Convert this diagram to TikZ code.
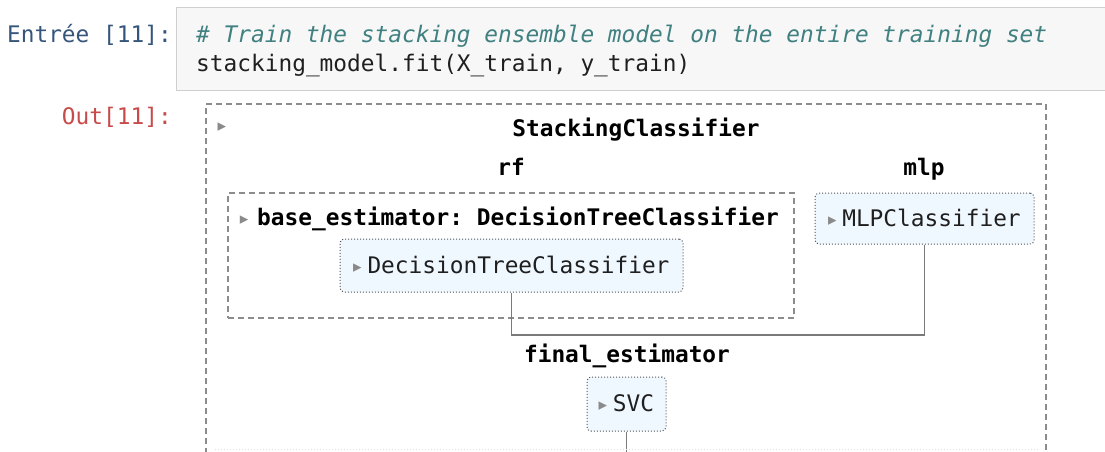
\documentclass[tikz,border=0pt]{standalone}
\usepackage{fontspec}
\setmonofont{DejaVu Sans Mono}
\newfontfamily\symfont{DejaVu Sans}

\definecolor{inblue}{HTML}{36557A}
\definecolor{outred}{HTML}{C84B4B}
\definecolor{commentteal}{HTML}{408080}
\definecolor{codeink}{HTML}{1F1F1F}
\definecolor{cellfill}{HTML}{F7F7F7}
\definecolor{cellborder}{HTML}{CFCFCF}
\definecolor{dashgray}{HTML}{8C8C8C}
\definecolor{dotgray}{HTML}{555555}
\definecolor{estfill}{HTML}{F0F8FF}
\definecolor{conngray}{HTML}{7A7A7A}
\definecolor{trigray}{HTML}{8A8A8A}

% toggle triangle in front of the estimator names
\newcommand{\tgl}{\makebox[8pt]{\color{trigray}\symfont\fontsize{17}{17}\selectfont\raisebox{1pt}{▸}}}

\tikzset{
  mono/.style={font=\ttfamily\fontsize{22.8}{28}\selectfont, inner sep=0pt},
  lbl/.style={font=\ttfamily\bfseries\fontsize{22.8}{28}\selectfont, inner sep=0pt, anchor=base, text=black},
  cellbox/.style={draw=cellborder, fill=cellfill, line width=1pt, inner sep=0pt},
  dashbox/.style={draw=dashgray, line width=1.1pt, dash pattern=on 6pt off 4pt, inner sep=0pt},
  estbox/.style={draw=dotgray, line width=1pt, dotted, fill=estfill, rounded corners=4pt,
    font=\ttfamily\fontsize{22.8}{28}\selectfont, text=codeink, text height=18pt, text depth=3pt,
    inner sep=0pt, align=center},
  conn/.style={draw=conngray, line width=1.4pt},
  faintline/.style={draw=black!12, line width=1pt, dotted}
}

\begin{document}
\begin{tikzpicture}[x=1pt,y=-1pt]
\useasboundingbox (0,0) rectangle (1105,452);
\clip (0,0) rectangle (1105,452);

% input cell
\node[cellbox, minimum width=939pt, minimum height=82.5pt] (cell) at (645.5,49.25) {};
\node[mono, text=inblue, anchor=base east] (inprompt) at (172,43) {Entrée [11]:};
\node[mono, text=commentteal, anchor=base west, font=\ttfamily\itshape\fontsize{22.8}{28}\selectfont] (codeA) at (196,43)
  {\# Train the stacking ensemble model on the entire training set};
\node[mono, text=codeink, anchor=base west] (codeB) at (196,71) {stacking\_model.fit(X\_train, y\_train)};

% output prompt
\node[mono, text=outred, anchor=base east] (outprompt) at (172,124) {Out[11]:};

% outer estimator container
\node[dashbox, minimum width=840pt, minimum height=376pt] (outer) at (626,292) {};
\node[inner sep=0pt] (toggle) at (222,128) {\tgl};
\node[lbl] (stack) at (636,136) {StackingClassifier};

% base estimators
\node[lbl] (rflbl) at (511,175) {rf};
\node[lbl] (mlplbl) at (924,175) {mlp};

\node[dashbox, minimum width=566pt, minimum height=125pt] (rfbox) at (511,255.5) {};
\node[lbl, anchor=base west] (basest) at (240,225) {\tgl\hspace{9pt}base\_estimator: DecisionTreeClassifier};

\node[estbox, minimum width=343pt, minimum height=53pt] (dtc) at (511.5,265.5) {\tgl\hspace{6pt}DecisionTreeClassifier};
\node[estbox, minimum width=219pt, minimum height=51pt] (mlp) at (924.5,218.5) {\tgl\hspace{6pt}MLPClassifier};

% final estimator
\node[lbl] (finallbl) at (627,362) {final\_estimator};
\node[estbox, minimum width=79pt, minimum height=54pt] (svc) at (626.5,404) {\tgl\hspace{6pt}SVC};

% connectors
\coordinate (join) at (511.5,335);
\draw[conn] (mlp.south) |- (join) -- (dtc.south);
\coordinate (svcout) at (626.5,470);
\draw[conn] (svc.south) -- (svcout);

% faint rule at the bottom
\coordinate (ruleA) at (215,449.5);
\coordinate (ruleB) at (1040,449.5);
\draw[faintline] (ruleA) -- (ruleB);
\end{tikzpicture}
\end{document}
